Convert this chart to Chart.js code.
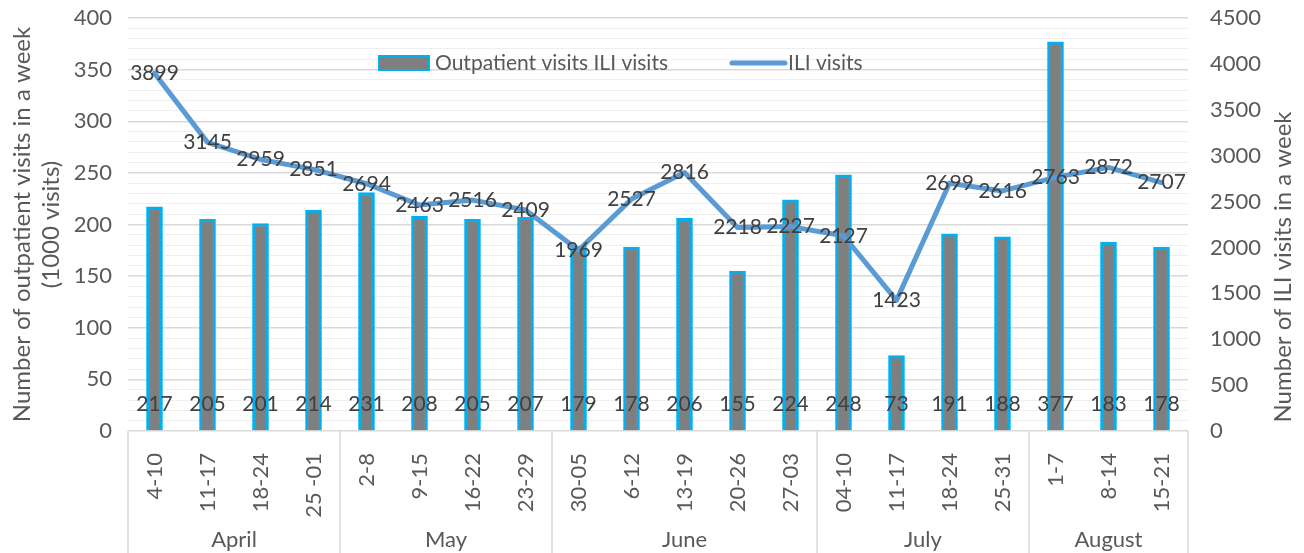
<!DOCTYPE html>
<html>
<head>
<meta charset="utf-8">
<script src="https://cdn.jsdelivr.net/npm/chart.js@4/dist/chart.umd.min.js"></script>
<style>
  html, body { margin: 0; padding: 0; background: #fff; }
  #wrap { width: 1304px; height: 553px; }
</style>
</head>
<body>
<div id="wrap"><canvas id="chart"></canvas></div>
<script>
const weeks = [
  "4-10", "11-17", "18-24", "25 -01",
  "2-8", "9-15", "16-22", "23-29",
  "30-05", "6-12", "13-19", "20-26", "27-03",
  "04-10", "11-17", "18-24", "25-31",
  "1-7", "8-14", "15-21"
];
const months = ["April", "May", "June", "July", "August"];
const weeksPerMonth = [4, 4, 5, 4, 3];

// outpatient visits (1000 visits)
const outpatient = [217, 205, 201, 214, 231, 208, 205, 207, 179, 178, 206, 155, 224, 248, 73, 191, 188, 377, 183, 178];
// ILI visits
const iliVisits = [3899, 3145, 2959, 2851, 2694, 2463, 2516, 2409, 1969, 2527, 2816, 2218, 2227, 2127, 1423, 2699, 2616, 2763, 2872, 2707];

const leftTitle = ["Number of outpatient visits in a week", "(1000 visits)"];
const rightTitle = "Number of ILI visits in a week";

const FONT = "Lato";
const TEXT = "#595959";
const LABEL = "#404040";
const BAR_FILL = "#7f7f7f";
const BAR_EDGE = "#00b0f0";
const LINE = "#5b9bd5";

Chart.defaults.font.family = FONT;
Chart.defaults.color = TEXT;

// data labels drawn on top of bars and line
const valueLabels = {
  id: "valueLabels",
  afterDatasetsDraw(chart) {
    const ctx = chart.ctx;
    ctx.save();
    ctx.font = "21px " + FONT;
    ctx.fillStyle = LABEL;
    ctx.textAlign = "center";
    ctx.textBaseline = "middle";
    chart.getDatasetMeta(0).data.forEach((bar, i) => {
      ctx.fillText(outpatient[i], bar.x, bar.base - 26);
    });
    chart.getDatasetMeta(1).data.forEach((pt, i) => {
      ctx.fillText(iliVisits[i], pt.x, pt.y);
    });
    ctx.restore();
  }
};

// month grouping row under the week labels
const monthGroups = {
  id: "monthGroups",
  afterDraw(chart) {
    const ctx = chart.ctx;
    const x = chart.scales.x;
    const area = chart.chartArea;
    const step = x.width / weeks.length;
    ctx.save();
    ctx.strokeStyle = "#d9d9d9";
    ctx.lineWidth = 1.5;
    ctx.font = "22px " + FONT;
    ctx.fillStyle = TEXT;
    ctx.textAlign = "center";
    ctx.textBaseline = "middle";
    let start = 0;
    const edge = (idx) => x.getPixelForValue(idx) - step / 2;
    ctx.beginPath();
    ctx.moveTo(edge(0), area.bottom);
    ctx.lineTo(edge(0), chart.height);
    weeksPerMonth.forEach((n, m) => {
      const l = edge(start);
      const r = edge(start + n);
      ctx.moveTo(r, area.bottom);
      ctx.lineTo(r, chart.height);
      ctx.fillText(months[m], (l + r) / 2, area.bottom + 109);
      start += n;
    });
    ctx.stroke();

    // right axis title, reads bottom to top
    const y1 = chart.scales.y1;
    ctx.font = "24px " + FONT;
    ctx.translate(y1.right - 21, 267);
    ctx.rotate(-Math.PI / 2);
    ctx.fillText(rightTitle, 0, 0);
    ctx.restore();
  }
};

// legend inside the plot area
const innerLegend = {
  id: "innerLegend",
  afterDraw(chart) {
    const ctx = chart.ctx;
    const a = chart.chartArea;
    const x0 = a.left + 251;
    const y0 = a.top + 45;
    ctx.save();
    ctx.fillStyle = BAR_FILL;
    ctx.fillRect(x0, y0 - 7, 50, 14);
    ctx.strokeStyle = BAR_EDGE;
    ctx.lineWidth = 2;
    ctx.strokeRect(x0, y0 - 7, 50, 14);
    ctx.font = "21px " + FONT;
    ctx.fillStyle = TEXT;
    ctx.textBaseline = "middle";
    ctx.fillText(chart.data.datasets[0].label, x0 + 56, y0);
    const x1 = x0 + 353;
    ctx.strokeStyle = LINE;
    ctx.lineWidth = 5;
    ctx.lineCap = "round";
    ctx.beginPath();
    ctx.moveTo(x1, y0);
    ctx.lineTo(x1 + 53, y0);
    ctx.stroke();
    ctx.fillText(chart.data.datasets[1].label, x1 + 56, y0);
    ctx.restore();
  }
};

new Chart(document.getElementById("chart"), {
  data: {
    labels: weeks,
    datasets: [
      {
        type: "bar",
        label: "Outpatient visits ILI visits",
        data: outpatient,
        yAxisID: "y",
        backgroundColor: BAR_FILL,
        borderColor: BAR_EDGE,
        borderWidth: 3,
        barThickness: 16,
        order: 2
      },
      {
        type: "line",
        label: "ILI visits",
        data: iliVisits,
        yAxisID: "y1",
        borderColor: LINE,
        backgroundColor: LINE,
        borderWidth: 5,
        borderCapStyle: "round",
        borderJoinStyle: "round",
        pointRadius: 0,
        tension: 0,
        order: 1
      }
    ]
  },
  options: {
    responsive: true,
    maintainAspectRatio: false,
    animation: false,
    layout: { padding: { top: 18, left: 0, right: 0, bottom: 0 } },
    plugins: {
      legend: { display: false },
      tooltip: { enabled: false }
    },
    scales: {
      x: {
        grid: { display: false },
        border: { display: false },
        ticks: {
          autoSkip: false,
          maxRotation: 90,
          minRotation: 90,
          padding: 14,
          color: TEXT,
          font: { size: 22 }
        },
        afterFit(scale) { scale.height = 122; }
      },
      y: {
        position: "left",
        min: 0,
        max: 400,
        border: { display: false },
        grid: {
          drawTicks: false,
          lineWidth: (c) => (c.tick && c.tick.value % 50 === 0 ? 1.5 : 1),
          color: (c) => (c.tick && c.tick.value % 50 === 0 ? "#d9d9d9" : "#efefef")
        },
        ticks: {
          stepSize: 10,
          autoSkip: false,
          padding: 16,
          color: TEXT,
          font: { size: 22 },
          callback: (v) => (v % 50 === 0 ? v : "")
        },
        title: {
          display: true,
          text: leftTitle,
          color: TEXT,
          font: { size: 24 },
          padding: { top: 8, bottom: 0 }
        },
        afterFit(scale) {
          scale.width = 128;
          scale.paddingTop = 0;
          scale.paddingBottom = 0;
        }
      },
      y1: {
        position: "right",
        min: 0,
        max: 4500,
        border: { display: false },
        grid: { display: false, drawTicks: false },
        ticks: {
          stepSize: 500,
          padding: 22,
          color: TEXT,
          font: { size: 22 },
          callback: (v) => String(v)
        },
        afterFit(scale) {
          scale.width = 116;
          scale.paddingTop = 0;
          scale.paddingBottom = 0;
        }
      }
    }
  },
  plugins: [valueLabels, monthGroups, innerLegend]
});
</script>
</body>
</html>
